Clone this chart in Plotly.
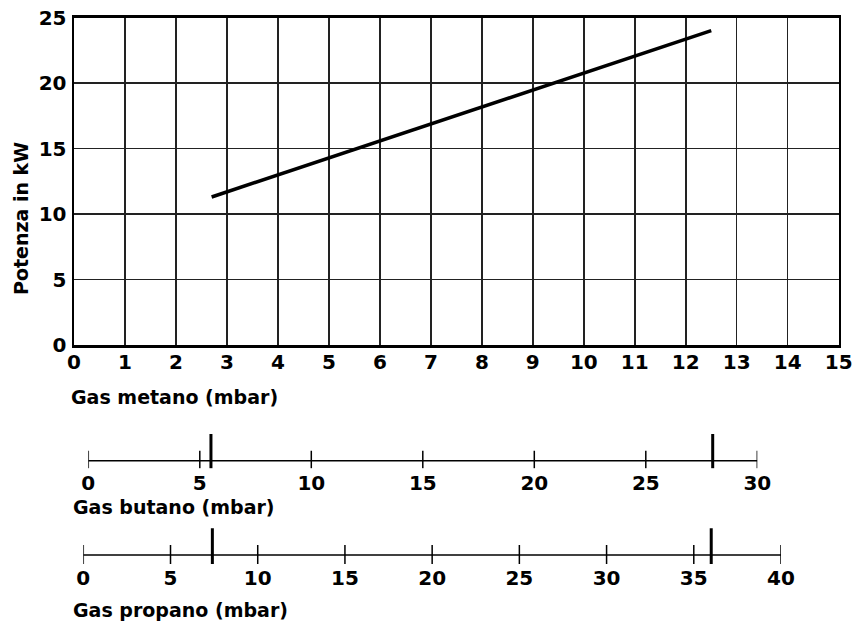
import plotly.graph_objects as go

# ---- data ----
metano_ticks = list(range(0, 16))
power_ticks = [0, 5, 10, 15, 20, 25]
line_metano = [2.7, 12.5]
line_power = [11.3, 24.0]
butano_ticks = [0, 5, 10, 15, 20, 25, 30]
butano_marks = [5.5, 28.0]
propano_ticks = [0, 5, 10, 15, 20, 25, 30, 35, 40]
propano_marks = [7.4, 36.0]

W, H = 855, 621
FONT = "DejaVu Sans"


def px(x):
    return x / W


def py(y):
    return 1 - y / H


def segs(vals, lo, hi):
    xs, ys = [], []
    for v in vals:
        xs += [v, v, None]
        ys += [lo, hi, None]
    return xs, ys


fig = go.Figure()

# main line
fig.add_trace(go.Scatter(x=line_metano, y=line_power, mode="lines",
                         line=dict(color="black", width=3.5),
                         xaxis="x", yaxis="y", showlegend=False, hoverinfo="skip"))

# butano scale
fig.add_trace(go.Scatter(x=[butano_ticks[0], butano_ticks[-1]], y=[0, 0], mode="lines",
                         line=dict(color="black", width=1.5),
                         xaxis="x2", yaxis="y2", showlegend=False, hoverinfo="skip"))
tx, ty = segs(butano_ticks, -7.6, 10)
fig.add_trace(go.Scatter(x=tx, y=ty, mode="lines", line=dict(color="black", width=1.5),
                         xaxis="x2", yaxis="y2", showlegend=False, hoverinfo="skip"))
tx, ty = segs(butano_marks, -7.6, 26.7)
fig.add_trace(go.Scatter(x=tx, y=ty, mode="lines", line=dict(color="black", width=3),
                         xaxis="x2", yaxis="y2", showlegend=False, hoverinfo="skip"))

# propano scale
fig.add_trace(go.Scatter(x=[propano_ticks[0], propano_ticks[-1]], y=[0, 0], mode="lines",
                         line=dict(color="black", width=1.5),
                         xaxis="x3", yaxis="y3", showlegend=False, hoverinfo="skip"))
tx, ty = segs(propano_ticks, -9, 10)
fig.add_trace(go.Scatter(x=tx, y=ty, mode="lines", line=dict(color="black", width=1.5),
                         xaxis="x3", yaxis="y3", showlegend=False, hoverinfo="skip"))
tx, ty = segs(propano_marks, -9, 26.7)
fig.add_trace(go.Scatter(x=tx, y=ty, mode="lines", line=dict(color="black", width=3),
                         xaxis="x3", yaxis="y3", showlegend=False, hoverinfo="skip"))

tickfont = dict(family=FONT, size=20, color="black", weight="bold")
titlefont = dict(family=FONT, size=19, color="black", weight="bold")

fig.update_layout(
    width=W, height=H,
    margin=dict(l=0, r=0, t=0, b=0, autoexpand=False),
    paper_bgcolor="white", plot_bgcolor="white",
    showlegend=False,
    xaxis=dict(domain=[px(74), px(838.7)], range=[0, 15], tickvals=metano_ticks,
               showgrid=True, gridcolor="#222", gridwidth=1.5,
               showline=True, mirror=True, linecolor="black", linewidth=2.5,
               ticks="", tickfont=tickfont, zeroline=False, anchor="y",
               ticklabelstandoff=-3, ticklabeloverflow="allow",
               automargin=False, fixedrange=True),
    yaxis=dict(domain=[py(345), py(17.5)], range=[0, 25], tickvals=power_ticks,
               showgrid=True, gridcolor="#222", gridwidth=1.5,
               showline=True, mirror=True, linecolor="black", linewidth=2.5,
               ticks="", tickfont=tickfont, zeroline=False, anchor="x",
               ticklabelstandoff=1, ticklabeloverflow="allow",
               automargin=False, fixedrange=True),
    xaxis2=dict(domain=[px(88.3), px(757.3)], range=[0, 30], tickvals=butano_ticks,
                showgrid=False, showline=False, zeroline=False, ticks="",
                tickfont=tickfont, anchor="y2", automargin=False, fixedrange=True),
    yaxis2=dict(domain=[py(460.7 + 8), py(460.7 - 30)], range=[-8, 30], visible=False,
                anchor="x2", automargin=False, fixedrange=True),
    xaxis3=dict(domain=[px(83.3), px(781)], range=[0, 40], tickvals=propano_ticks,
                showgrid=False, showline=False, zeroline=False, ticks="",
                tickfont=tickfont, anchor="y3", automargin=False, fixedrange=True),
    yaxis3=dict(domain=[py(555 + 9), py(555 - 30)], range=[-9, 30], visible=False,
                anchor="x3", automargin=False, fixedrange=True),
    annotations=[
        dict(text="Potenza in kW", x=px(21), y=py(219), xref="paper", yref="paper",
             textangle=-90, showarrow=False, font=titlefont,
             xanchor="center", yanchor="middle"),
        dict(text="Gas metano (mbar)", x=px(69), y=py(397), xref="paper", yref="paper",
             showarrow=False, font=titlefont, xanchor="left", yanchor="middle"),
        dict(text="Gas butano (mbar)", x=px(70.5), y=py(507), xref="paper", yref="paper",
             showarrow=False, font=titlefont, xanchor="left", yanchor="middle"),
        dict(text="Gas propano (mbar)", x=px(70.5), y=py(610), xref="paper", yref="paper",
             showarrow=False, font=titlefont, xanchor="left", yanchor="middle"),
    ],
)

fig.write_html("out.html", config={"displayModeBar": False, "staticPlot": True},
               post_script="document.body.style.margin='0';document.body.style.overflow='hidden';")
